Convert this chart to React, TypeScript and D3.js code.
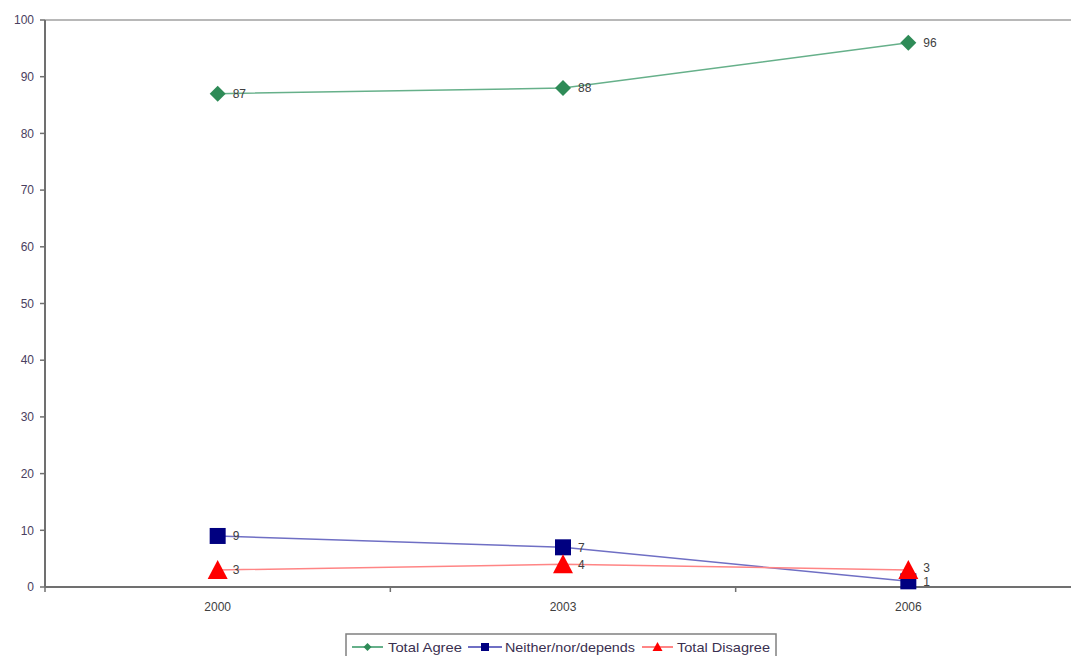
import React from "react";
import * as d3 from "d3";

const categories = ["2000", "2003", "2006"];
const totalAgree = [87, 88, 96];
const neither = [9, 7, 1];
const totalDisagree = [3, 4, 3];
const yTicks = [0, 10, 20, 30, 40, 50, 60, 70, 80, 90, 100];
const seriesNames = ["Total Agree", "Neither/nor/depends", "Total Disagree"];

const W = 1071, H = 656;
const left = 45, right = 1081, top = 20, bottom = 587;

export default function App() {
  const x = d3.scaleBand<string>().domain(categories).range([left, right]);
  const y = d3.scaleLinear().domain([0, 100]).range([bottom, top]);
  const cx = (c: string) => (x(c) as number) + x.bandwidth() / 2;
  const line = d3.line<number>().x((_, i) => cx(categories[i])).y((d) => y(d));

  const series = [
    { name: seriesNames[0], data: totalAgree, line: "#66b08a", marker: "#2e8b57", shape: "diamond" },
    { name: seriesNames[1], data: neither, line: "#6f6fc4", marker: "#000080", shape: "square" },
    { name: seriesNames[2], data: totalDisagree, line: "#ff8585", marker: "#ff0000", shape: "triangle" },
  ];

  const marker = (shape: string, px: number, py: number, color: string, s: number) => {
    if (shape === "diamond") {
      return <path d={`M${px},${py - s}L${px + s},${py}L${px},${py + s}L${px - s},${py}Z`} fill={color} />;
    }
    if (shape === "square") {
      return <rect x={px - s} y={py - s} width={2 * s} height={2 * s} fill={color} />;
    }
    return <path d={`M${px},${py - s - 1}L${px + s + 1},${py + s}L${px - s - 1},${py + s}Z`} fill={color} />;
  };

  const xTickPositions = categories.map((c) => x(c) as number).concat([right]);
  const font = "Arial, 'Liberation Sans', sans-serif";
  const labelColor = "#4a4060";

  // legend
  const legendX = 346, legendY = 634, legendW = 430, legendH = 26;
  const legendItems = [
    { x: 352, x2: 383, tx: 388, tw: 74 },
    { x: 468, x2: 502, tx: 505, tw: 130 },
    { x: 642, x2: 673, tx: 677, tw: 93 },
  ];

  return (
    <svg width={W} height={H} style={{ position: "absolute", left: 0, top: 0, background: "#fff" }} fontFamily={font}>
      <rect x={0} y={0} width={W} height={H} fill="#fff" />
      {/* top gridline */}
      <line x1={left} x2={right} y1={y(100)} y2={y(100)} stroke="#b8b8b8" strokeWidth={2} />
      {/* y axis */}
      <line x1={left} x2={left} y1={top} y2={bottom} stroke="#707070" strokeWidth={2} />
      {yTicks.map((t) => (
        <g key={t}>
          <line x1={left - 5} x2={left} y1={y(t)} y2={y(t)} stroke="#707070" strokeWidth={1.5} />
          <text x={left - 11} y={y(t)} dy="0.35em" textAnchor="end" fontSize={12} fill={labelColor}>{t}</text>
        </g>
      ))}
      {/* x axis */}
      <line x1={left} x2={right} y1={bottom} y2={bottom} stroke="#707070" strokeWidth={2} />
      {xTickPositions.map((p, i) => (
        <line key={i} x1={p} x2={p} y1={bottom} y2={bottom + 5} stroke="#707070" strokeWidth={1.5} />
      ))}
      {categories.map((c) => (
        <text key={c} x={cx(c)} y={bottom + 24} textAnchor="middle" fontSize={12} fill="#404040">{c}</text>
      ))}
      {/* series */}
      {series.map((s) => (
        <g key={s.name}>
          <path d={line(s.data) || ""} fill="none" stroke={s.line} strokeWidth={1.5} />
          {s.data.map((v, i) => (
            <g key={i}>{marker(s.shape, cx(categories[i]), y(v), s.marker, s.shape === "diamond" ? 8 : s.shape === "square" ? 8 : 9)}</g>
          ))}
        </g>
      ))}
      {/* data labels */}
      {series.map((s, si) =>
        s.data.map((v, i) => {
          let dy = 0;
          if (i === 2 && si === 1) dy = 0;
          if (i === 2 && si === 2) dy = -2;
          return (
            <text key={s.name + i} x={cx(categories[i]) + 15} y={y(v) + dy} dy="0.35em" fontSize={12} fill="#404040">{v}</text>
          );
        })
      )}
      {/* legend */}
      <rect x={legendX} y={legendY} width={legendW} height={legendH} fill="#fff" stroke="#808080" strokeWidth={1.5} />
      {series.map((s, i) => (
        <g key={s.name}>
          <line x1={legendItems[i].x} x2={legendItems[i].x2} y1={legendY + 13} y2={legendY + 13} stroke={s.line} strokeWidth={2} />
          {marker(s.shape, (legendItems[i].x + legendItems[i].x2) / 2, legendY + 13, s.marker, 4)}
          <text x={legendItems[i].tx} y={legendY + 13} dy="0.35em" fontSize={13.5} fill="#3a3050"
            textLength={legendItems[i].tw} lengthAdjust="spacingAndGlyphs">{s.name}</text>
        </g>
      ))}
    </svg>
  );
}
